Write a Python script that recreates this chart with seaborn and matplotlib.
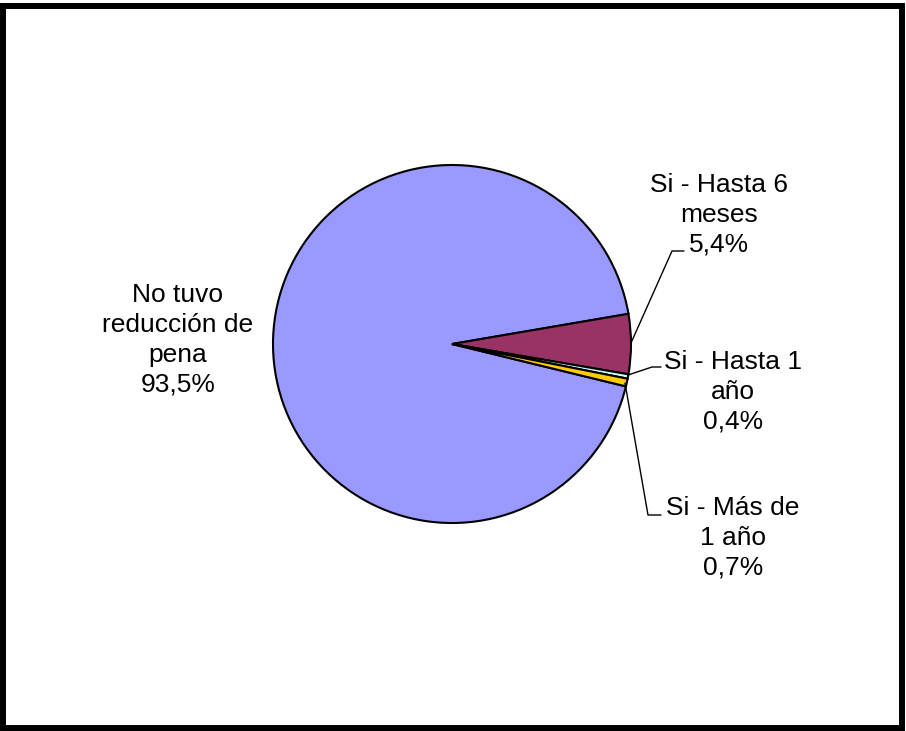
import matplotlib
matplotlib.use("Agg")
import matplotlib.pyplot as plt
import seaborn as sns
from matplotlib.patches import Rectangle

# datos
categorias = ["No tuvo reducción de pena", "Si - Hasta 6 meses", "Si - Hasta 1 año", "Si - Más de 1 año"]
etiquetas = ["No tuvo\nreducción de\npena\n93,5%", "Si - Hasta 6\nmeses\n5,4%",
             "Si - Hasta 1\naño\n0,4%", "Si - Más de\n1 año\n0,7%"]
porcentajes = [93.5, 5.4, 0.4, 0.7]
colores = ["#9999FF", "#993366", "#CCFFFF", "#FFCC00"]

sns.set_theme(style="white")
plt.rcParams["font.family"] = ["Liberation Sans", "DejaVu Sans"]

W, H = 906, 731
fig = plt.figure(figsize=(W / 100, H / 100), dpi=100)
ax = fig.add_axes([0, 0, 1, 1])

cx, cy, r = 452, H - 344, 179
ax.pie(porcentajes, colors=colores, startangle=-13.7, counterclock=False,
       center=(cx, cy), radius=r, frame=True,
       wedgeprops=dict(edgecolor="black", linewidth=1.5))
ax.set_xlim(0, W)
ax.set_ylim(0, H)
ax.set_aspect("equal")
ax.axis("off")

# etiquetas
pos = [(178, 340), (719, 215), (733, 392), (733, 538)]
for (x, y), t in zip(pos, etiquetas):
    ax.text(x, H - y, t, ha="center", va="center", fontsize=19,
            linespacing=1.3, color="black")

# líneas guía
guias = [
    [(631, 343), (672, 251), (684, 251)],
    [(628, 375), (652, 367), (661, 367)],
    [(625, 383), (648, 515), (661, 515)],
]
for g in guias:
    xs = [p[0] for p in g]
    ys = [H - p[1] for p in g]
    ax.plot(xs, ys, color="black", linewidth=1.0)

# marco
fig.patches.append(Rectangle((2.5 / W, 3 / H), 899.5 / W, 722.5 / H,
                             transform=fig.transFigure, fill=False,
                             edgecolor="black", linewidth=4.3))

fig.savefig("out.png", dpi=100)
